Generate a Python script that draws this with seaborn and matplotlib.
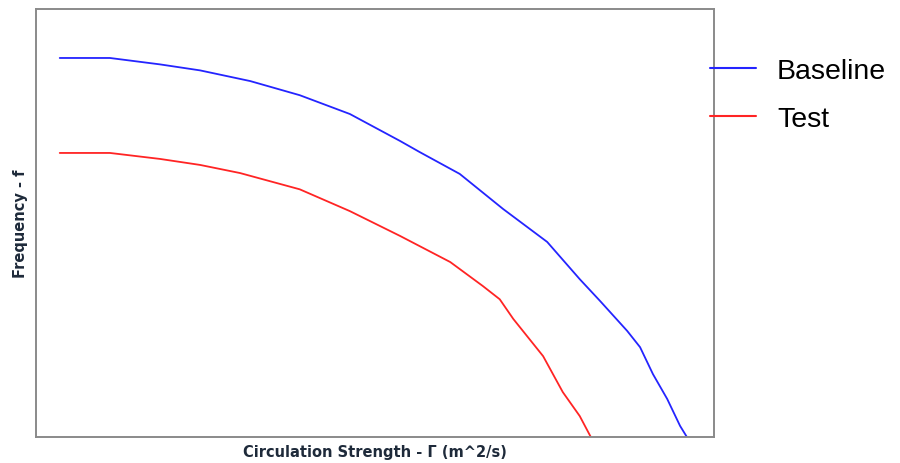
import numpy as np
import pandas as pd
import matplotlib
matplotlib.use("Agg")
import matplotlib.pyplot as plt
import seaborn as sns
from matplotlib.lines import Line2D

sns.set_style("white")
plt.rcParams["font.family"] = ["Liberation Sans", "DejaVu Sans"]

# --- data (no tick labels, so arbitrary units) ---
baseline_x = [0.35, 1.09, 1.83, 2.42, 3.16, 3.89, 4.63, 5.37, 5.66, 6.25,
              6.89, 7.54, 8.02, 8.32, 8.72, 8.91, 9.10, 9.31, 9.50, 9.62]
baseline_y = [0.886, 0.886, 0.871, 0.857, 0.832, 0.799, 0.755, 0.692, 0.666, 0.615,
              0.533, 0.456, 0.369, 0.318, 0.248, 0.210, 0.147, 0.089, 0.026, -0.005]

test_x = [0.35, 1.09, 1.83, 2.42, 3.01, 3.89, 4.63, 5.37, 6.11, 6.59,
          6.84, 7.04, 7.48, 7.77, 8.02, 8.20]
test_y = [0.664, 0.664, 0.650, 0.636, 0.617, 0.579, 0.528, 0.470, 0.409, 0.353,
          0.322, 0.276, 0.189, 0.105, 0.049, -0.005]

df = pd.concat([
    pd.DataFrame({"gamma": baseline_x, "freq": baseline_y, "case": "Baseline"}),
    pd.DataFrame({"gamma": test_x, "freq": test_y, "case": "Test"}),
])

fig = plt.figure(figsize=(9, 4.64), dpi=100)
ax = fig.add_axes([0.04, 0.056, 0.7533, 0.922])

sns.lineplot(data=df, x="gamma", y="freq", hue="case", sort=False,
             palette={"Baseline": "#2424ff", "Test": "#ff2424"},
             linewidth=1.3, ax=ax, legend=False)

ax.set_xlim(0, 10)
ax.set_ylim(0, 1)
ax.set_xticks([])
ax.set_yticks([])
for s in ax.spines.values():
    s.set_color("#8a8a8a")
    s.set_linewidth(1.4)

# axis titles: small, bold, wide face
ax.set_xlabel("Circulation Strength - \u0393 (m^2/s)", fontsize=10.5,
              fontweight="bold", family="DejaVu Sans", color="#1e2a3a",
              labelpad=5)
ax.set_ylabel("Frequency - f", fontsize=10.5, fontweight="bold",
              family="DejaVu Sans", color="#1e2a3a", labelpad=6)

# legend sits outside the axes, to the right
handles = [Line2D([], [], color="#2424ff", lw=1.5),
           Line2D([], [], color="#ff2424", lw=1.5)]
fig.legend(handles, ["Baseline", "Test"], loc="upper left",
           bbox_to_anchor=(710 / 900, 0.873), frameon=False,
           fontsize=20.5, labelcolor="black", handlelength=1.6,
           handletextpad=0.75, labelspacing=0.78, borderpad=0,
           borderaxespad=0)

fig.savefig("out.png", dpi=100)
